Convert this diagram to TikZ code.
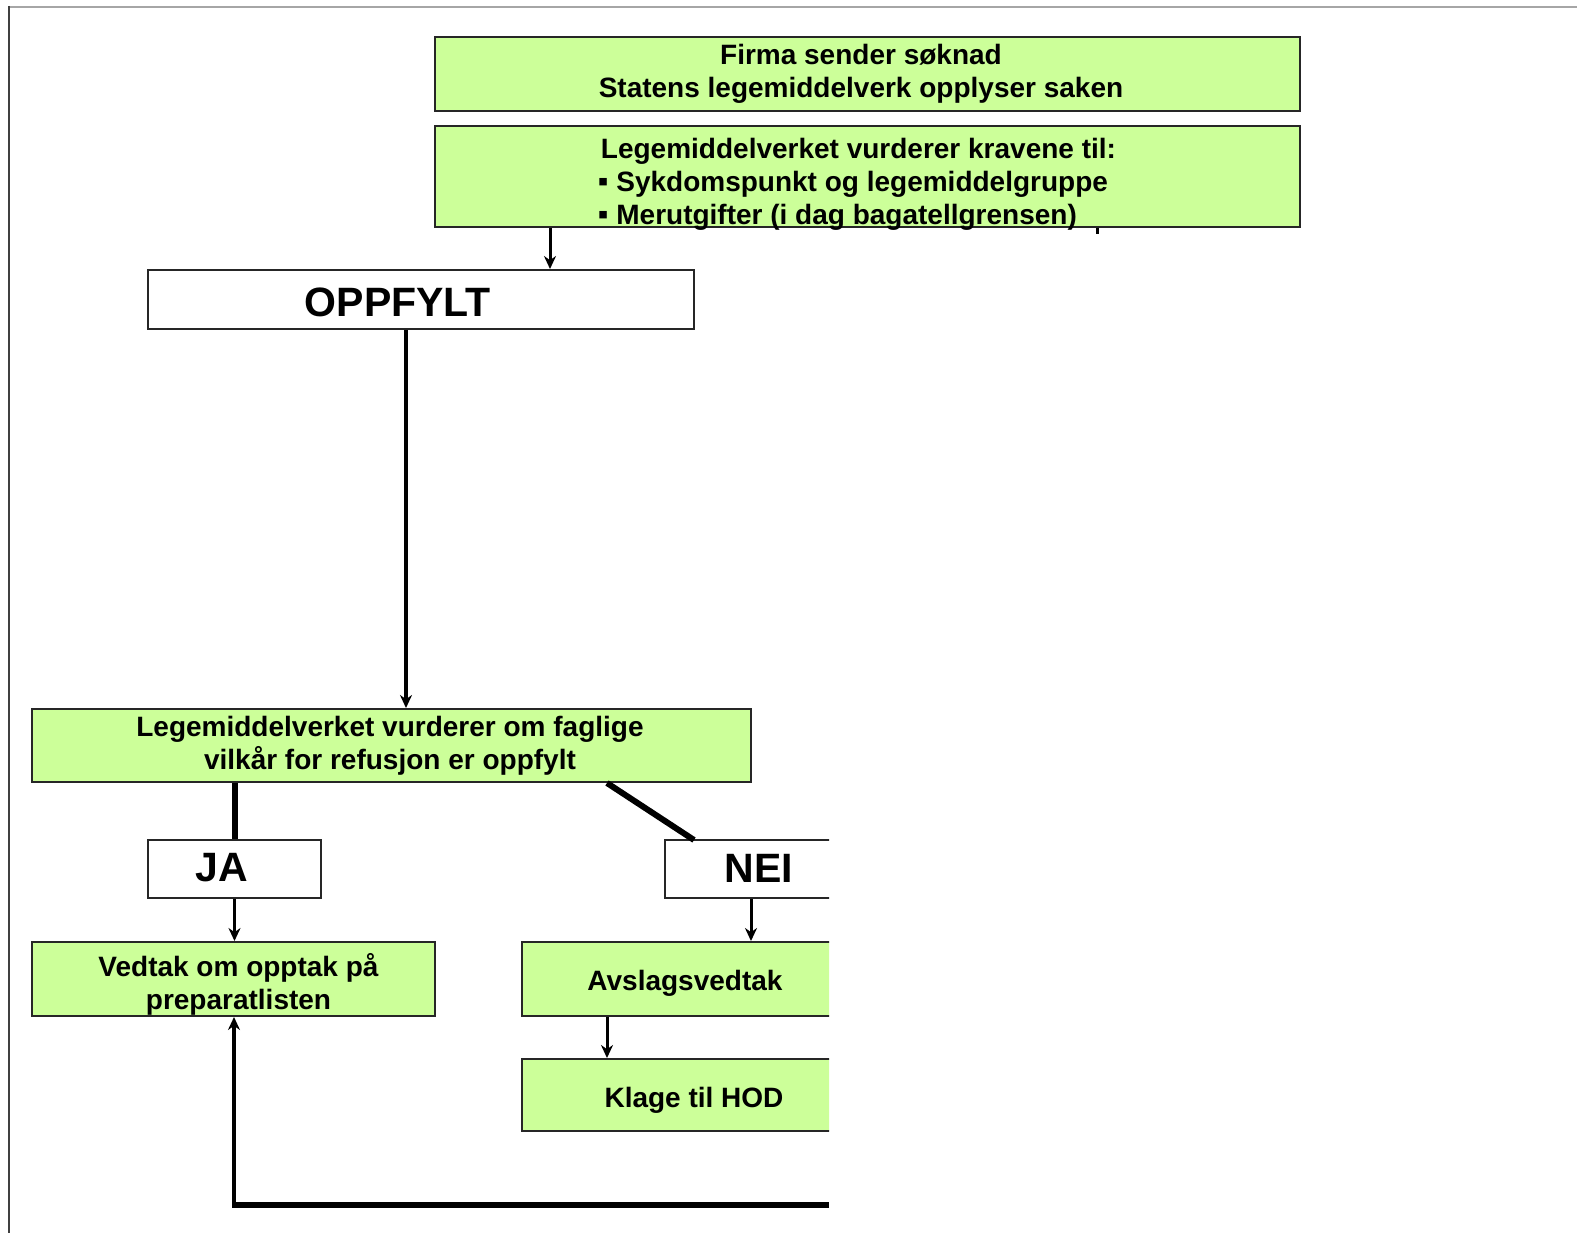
\documentclass[tikz,border=0pt]{standalone}
\usepackage{fontspec}
\setmainfont{Liberation Sans}
\usetikzlibrary{arrows.meta}
\definecolor{boxgreen}{RGB}{204,255,153}
\begin{document}
\begin{tikzpicture}[x=1pt,y=-1pt,
  boxline/.style={draw=black!85, line width=2pt, inner sep=0pt},
  gbox/.style={boxline, fill=boxgreen},
  wbox/.style={boxline, fill=white},
  txt/.style={font=\bfseries\fontsize{28}{33}\selectfont, align=center, inner sep=0pt},
  bigtxt/.style={font=\bfseries\fontsize{41}{48}\selectfont, inner sep=0pt},
  tip/.style={-{Stealth[length=13pt,width=12pt]}},
  arr/.style={line width=3pt, tip},
  thickline/.style={line width=6pt},
]
\useasboundingbox (0,0) rectangle (1577,1233);
% page frame
\draw[black!35, line width=2.5pt] (8,7) -- (1577,7);
\draw[black!75, line width=2.5pt] (9,6) -- (9,1233);

% boxes
\node[gbox, minimum width=865pt, minimum height=74pt] (box1) at (867.5,74) {};
\node[gbox, minimum width=865pt, minimum height=101pt] (box2) at (867.5,176.5) {};
\node[wbox, minimum width=546pt, minimum height=59pt] (oppfylt) at (421,299.5) {};
\node[gbox, minimum width=719pt, minimum height=73pt] (box3) at (391.5,745.5) {};
\node[wbox, minimum width=173pt, minimum height=58pt] (ja) at (234.5,869) {};
\node[gbox, minimum width=403pt, minimum height=74pt] (vedtak) at (233.5,979) {};

\begin{scope}
  \clip (0,820) rectangle (829,1233);
  \node[wbox, minimum width=188pt, minimum height=58pt] (nei) at (759,869) {};
  \node[gbox, minimum width=318pt, minimum height=74pt] (avslag) at (681,979) {};
  \node[gbox, minimum width=336pt, minimum height=72pt] (klage) at (690,1095) {};
\end{scope}

% texts
\node[txt] (t1) at (861,74) {Firma sender søknad\\Statens legemiddelverk opplyser saken};
\node[txt, align=left] (t2) at (857,184) {\hspace*{3pt}Legemiddelverket vurderer kravene til:\\{\fontsize{30}{33}\selectfont ▪} Sykdomspunkt og legemiddelgruppe\\{\fontsize{30}{33}\selectfont ▪} Merutgifter (i dag bagatellgrensen)};
\node[bigtxt] (t3) at (398,302) {OPPFYLT};
\node[txt] (t4) at (390,746) {Legemiddelverket vurderer om faglige\\vilkår for refusjon er oppfylt};
\node[bigtxt] (t5) at (222,868) {JA};
\node[bigtxt] (t6) at (759,868) {NEI};
\node[txt] (t7) at (238.5,984) {Vedtak om opptak på\\preparatlisten};
\node[txt] (t8) at (685,983) {Avslagsvedtak};
\node[txt] (t9) at (694,1100) {Klage til HOD};

% connectors
\draw[arr] (box2.south -| 550,0) -- (oppfylt.north -| 550,0);
\coordinate (tick) at (1097,234);
\draw[line width=3pt] (box2.south -| tick) -- (tick);
\draw[line width=3.5pt, tip] (oppfylt.south -| 406,0) -- (box3.north -| 406,0);
\draw[thickline] (box3.south -| ja.north) -- (ja.north);
\draw[thickline] (607,783) -- (694,840);
\draw[arr] (ja.south) -- (vedtak.north -| ja.south);
\draw[arr] (nei.south -| 751,0) -- (avslag.north -| 751,0);
\draw[arr] (avslag.south -| 607,0) -- (klage.north -| 607,0);
\coordinate (cut) at (829,1205);
\coordinate (corner) at (234,1205);
\draw[thickline] (cut) -- ([xshift=-2pt]corner);
\draw[line width=3.5pt, tip] ([yshift=3pt]corner) -- (vedtak.south -| corner);
\end{tikzpicture}
\end{document}
